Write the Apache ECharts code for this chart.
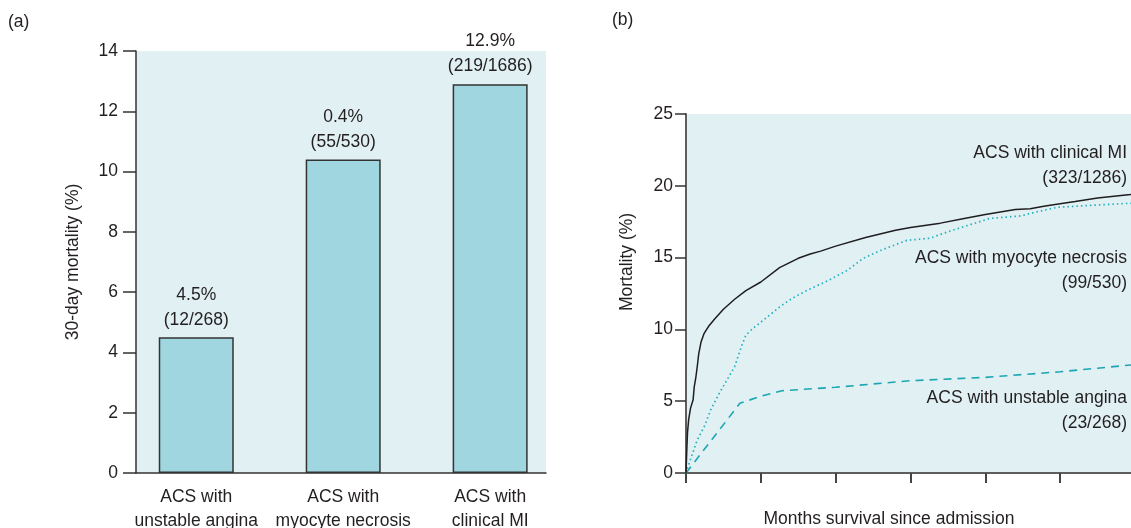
<!DOCTYPE html>
<html>
<head>
<meta charset="utf-8">
<script src="https://cdn.jsdelivr.net/npm/echarts@6/dist/echarts.min.js"></script>
<style>
  html, body { margin: 0; padding: 0; background: #ffffff; }
  #chart { width: 1131px; height: 528px; }
</style>
</head>
<body>
<div id="chart"></div>
<script>
// (a) 30-day mortality by ACS group
const categories = ['ACS with\nunstable angina', 'ACS with\nmyocyte necrosis', 'ACS with\nclinical MI'];
const mortality30 = [4.5, 10.4, 12.9];
const pctLabels = ['4.5%', '0.4%', '12.9%'];
const countLabels = ['(12/268)', '(55/530)', '(219/1686)'];

// (b) cumulative mortality curves: months since admission vs mortality (%)
const monthsMI = [0, 0.01, 0.02, 0.035, 0.06, 0.095, 0.11, 0.13, 0.15, 0.17, 0.2, 0.24, 0.3, 0.38, 0.5, 0.65, 0.8, 1.0, 1.25, 1.5, 1.66, 1.8, 2.0, 2.4, 2.8, 3.0, 3.4, 3.7, 4.0, 4.4, 4.6, 4.8, 5.2, 5.5, 5.94, 6.0];
const mortMI   = [0, 1.5, 2.8, 3.7, 4.5, 5.1, 6.0, 6.6, 7.4, 8.3, 9.1, 9.7, 10.2, 10.7, 11.4, 12.1, 12.7, 13.3, 14.3, 14.95, 15.25, 15.45, 15.8, 16.4, 16.9, 17.1, 17.4, 17.7, 18.0, 18.35, 18.4, 18.6, 18.9, 19.15, 19.4, 19.45];

const monthsNec = [0, 0.05, 0.15, 0.25, 0.33, 0.45, 0.55, 0.65, 0.74, 0.8, 0.9, 1.0, 1.26, 1.4, 1.61, 1.9, 2.15, 2.37, 2.6, 2.95, 3.26, 3.5, 3.71, 4.06, 4.47, 4.7, 4.96, 5.49, 6.0];
const mortNec   = [0, 0.8, 2.3, 3.3, 4.4, 5.6, 6.5, 7.4, 8.8, 9.6, 10.1, 10.5, 11.6, 12.1, 12.7, 13.4, 14.1, 14.95, 15.5, 16.2, 16.35, 16.8, 17.15, 17.73, 17.9, 18.2, 18.5, 18.66, 18.8];

const monthsUA = [0, 0.72, 1.0, 1.28, 2.0, 3.0, 4.0, 5.0, 5.5, 6.0];
const mortUA   = [0, 4.85, 5.35, 5.73, 5.97, 6.43, 6.66, 7.05, 7.3, 7.55];

const curveNotes = [
  'ACS with clinical MI\n(323/1286)',
  'ACS with myocyte necrosis\n(99/530)',
  'ACS with unstable angina\n(23/268)'
];

const FONT = "'Liberation Sans', Arial, Helvetica, sans-serif";
const FS = 17.5;
const INK = '#231f20';
const PANEL = '#e1f0f3';
const TEAL = '#1ba6b3';

const pairs = (xs, ys) => xs.map((x, i) => [x, ys[i]]);

const chart = echarts.init(document.getElementById('chart'), null, { renderer: 'canvas' });

const option = {
  backgroundColor: '#ffffff',
  animation: false,
  textStyle: { fontFamily: FONT, color: INK },
  grid: [
    { left: 136, top: 51, width: 410, bottom: 55, show: true, backgroundColor: PANEL, borderWidth: 0, outerBoundsMode: 'none' },
    { left: 686, top: 114, width: 449, bottom: 55, show: true, backgroundColor: PANEL, borderWidth: 0, outerBoundsMode: 'none' }
  ],
  xAxis: [
    {
      gridIndex: 0, type: 'value', min: 0.59, max: 3.38,
      axisLine: { show: true, lineStyle: { color: '#333', width: 1.5 } },
      axisTick: { show: false },
      splitLine: { show: false },
      axisLabel: {
        customValues: categories.map((c, i) => i + 1),
        showMinLabel: true, showMaxLabel: true, hideOverlap: false,
        formatter: v => categories[Math.round(v) - 1] || '',
        fontFamily: FONT, fontSize: FS, color: INK, lineHeight: 24, margin: 12
      }
    },
    {
      gridIndex: 1, type: 'value', min: 0, max: 6, interval: 1,
      axisLine: { show: true, lineStyle: { color: '#5e5e5e', width: 2 } },
      axisTick: { show: true, length: 10, lineStyle: { color: '#444', width: 2 } },
      splitLine: { show: false },
      axisLabel: { show: false }
    }
  ],
  yAxis: [
    {
      gridIndex: 0, type: 'value', min: 0, max: 14, interval: 2,
      name: '30-day mortality (%)', nameLocation: 'middle', nameGap: 54,
      nameTextStyle: { fontFamily: FONT, fontSize: FS, color: INK },
      axisLine: { show: true, lineStyle: { color: '#333', width: 1.5 } },
      axisTick: { show: true, length: 13, lineStyle: { color: '#333', width: 1.5 } },
      splitLine: { show: false },
      axisLabel: { fontFamily: FONT, fontSize: FS, color: INK, margin: 18 }
    },
    {
      gridIndex: 1, type: 'value', min: 0, max: 25, interval: 5,
      axisLine: { show: true, lineStyle: { color: '#5e5e5e', width: 2 } },
      axisTick: { show: true, length: 11, lineStyle: { color: '#333', width: 1.5 } },
      splitLine: { show: false },
      axisLabel: { fontFamily: FONT, fontSize: FS, color: INK, margin: 13 }
    }
  ],
  series: [
    {
      type: 'bar', xAxisIndex: 0, yAxisIndex: 0, barWidth: 75,
      data: mortality30.map((v, i) => [i + 1, v]),
      itemStyle: { color: '#a0d6df', borderColor: '#333', borderWidth: 1.5 },
      label: {
        show: true, position: 'top', distance: 5,
        fontFamily: FONT, fontSize: FS, color: INK, lineHeight: 25, align: 'center',
        formatter: p => pctLabels[p.dataIndex] + '\n' + countLabels[p.dataIndex]
      }
    },
    {
      type: 'line', xAxisIndex: 1, yAxisIndex: 1, showSymbol: false,
      data: pairs(monthsUA, mortUA),
      lineStyle: { color: TEAL, width: 1.6, type: [8, 6] }
    },
    {
      type: 'line', xAxisIndex: 1, yAxisIndex: 1, showSymbol: false,
      data: pairs(monthsNec, mortNec),
      lineStyle: { color: '#22b0bf', width: 1.7, type: [1.5, 3] }
    },
    {
      type: 'line', xAxisIndex: 1, yAxisIndex: 1, showSymbol: false,
      data: pairs(monthsMI, mortMI),
      lineStyle: { color: '#1e1e1e', width: 1.5 }
    }
  ],
  graphic: [
    { type: 'text', left: 8, top: 13, style: { text: '(a)', font: FS + 'px ' + FONT, fill: INK } },
    { type: 'text', left: 612, top: 11, style: { text: '(b)', font: FS + 'px ' + FONT, fill: INK } },
    {
      type: 'text', x: 627, y: 262, rotation: Math.PI / 2,
      style: { text: 'Mortality (%)', font: FS + 'px ' + FONT, fill: INK, align: 'center', verticalAlign: 'middle' }
    },
    {
      type: 'text', x: 889, y: 519,
      style: { text: 'Months survival since admission', font: FS + 'px ' + FONT, fill: INK, align: 'center', verticalAlign: 'middle' }
    },
    { type: 'text', x: 1127, y: 141, style: { text: curveNotes[0], font: FS + 'px ' + FONT, fill: INK, align: 'right', lineHeight: 25 } },
    { type: 'text', x: 1127, y: 246, style: { text: curveNotes[1], font: FS + 'px ' + FONT, fill: INK, align: 'right', lineHeight: 25 } },
    { type: 'text', x: 1127, y: 386, style: { text: curveNotes[2], font: FS + 'px ' + FONT, fill: INK, align: 'right', lineHeight: 25 } }
  ]
};

chart.setOption(option);
</script>
</body>
</html>
